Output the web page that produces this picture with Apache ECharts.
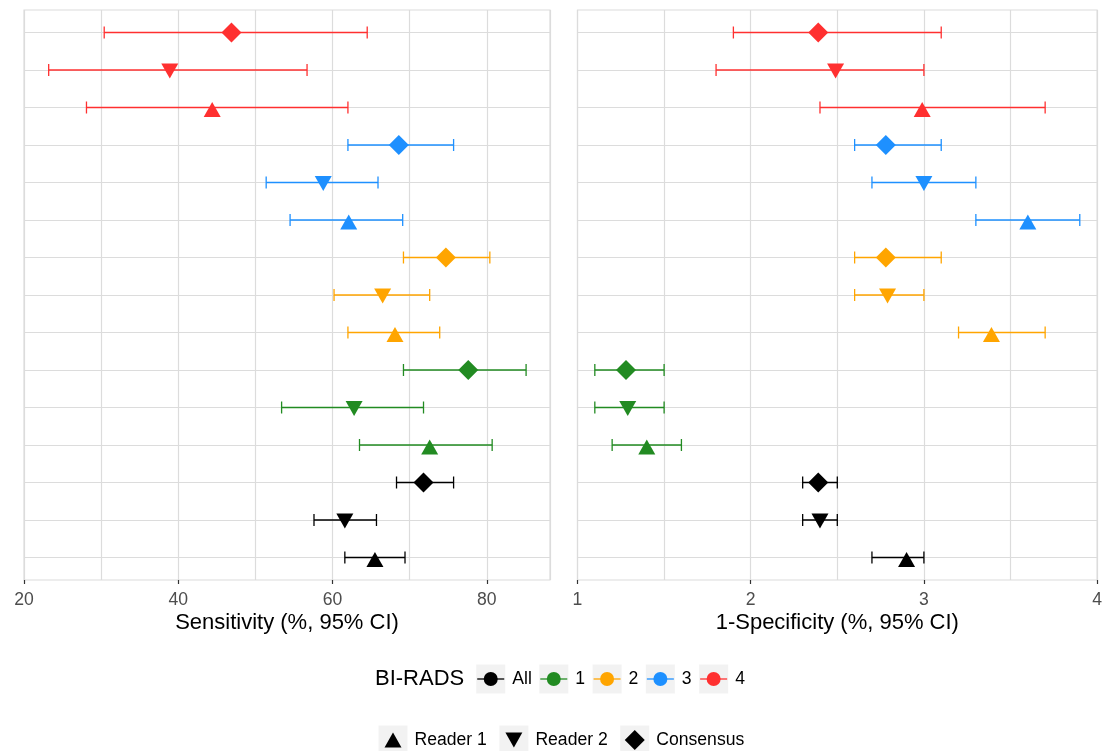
<!DOCTYPE html>
<html>
<head>
<meta charset="utf-8">
<script src="https://cdn.jsdelivr.net/npm/echarts@6/dist/echarts.min.js"></script>
<style>
  html, body { margin: 0; padding: 0; background: #ffffff; }
  #chart { width: 1105px; height: 751px; }
</style>
</head>
<body>
<div id="chart"></div>
<script>
// BI-RADS groups (bottom to top) and readers within each group
const biradsGroups = ['All', '1', '2', '3', '4'];
const readerNames = ['Reader 1', 'Reader 2', 'Consensus'];

// Sensitivity (%, 95% CI) — rows: BI-RADS group, columns: Reader 1, Reader 2, Consensus
const sensEst  = [[65.5, 61.6, 71.8], [72.6, 62.8, 77.6], [68.1, 66.5, 74.7], [62.1, 58.8, 68.6], [44.4, 38.9, 46.9]];
const sensLow  = [[61.6, 57.6, 68.3], [63.5, 53.4, 69.2], [62.0, 60.2, 69.2], [54.5, 51.4, 62.0], [28.1, 23.2, 30.4]];
const sensHigh = [[69.4, 65.7, 75.7], [80.7, 71.8, 85.1], [73.9, 72.6, 80.4], [69.1, 65.9, 75.7], [62.0, 56.7, 64.5]];

// 1-Specificity (%, 95% CI)
const fprEst  = [[2.90, 2.40, 2.39], [1.40, 1.29, 1.28], [3.39, 2.79, 2.78], [3.60, 3.00, 2.78], [2.99, 2.49, 2.39]];
const fprLow  = [[2.70, 2.30, 2.30], [1.20, 1.10, 1.10], [3.20, 2.60, 2.60], [3.30, 2.70, 2.60], [2.40, 1.80, 1.90]];
const fprHigh = [[3.00, 2.50, 2.50], [1.60, 1.50, 1.50], [3.70, 3.00, 3.10], [3.90, 3.30, 3.10], [3.70, 3.00, 3.10]];

// Axis ranges and tick labels
const sensRange = [20, 88.2];
const sensTicks = [20, 40, 60, 80];
const fprRange = [1, 4];
const fprTicks = [1, 2, 3, 4];
const rowTicks = [1, 2, 3, 4, 5, 6, 7, 8, 9, 10, 11, 12, 13, 14, 15];

// ---- styling ----
const groupColors = ['#000000', '#228B22', '#FFA500', '#1E90FF', '#FF3030'];
const readerSymbols = ['triangle', 'triangle', 'diamond'];
const readerRotate = [0, 180, 0];
const readerSize = [[17, 15], [17, 15], [20, 20]];
const readerOffset = [[0, 2], [0, 1], [0, 0]];
const FONT = '"Liberation Sans", Arial, sans-serif';
const GRID_COLOR = '#dcdcdc';
const CAP = 0.32;   // cap height in row units

const rowOf = (gi, ri) => gi * 3 + ri + 1;

function errorBars(xAxisIndex, low, high) {
  const data = [];
  biradsGroups.forEach((g, gi) => readerNames.forEach((r, ri) => {
    data.push([low[gi][ri], high[gi][ri], rowOf(gi, ri), gi]);
  }));
  return {
    type: 'custom',
    xAxisIndex: xAxisIndex,
    yAxisIndex: xAxisIndex,
    silent: true,
    z: 3,
    encode: { x: [0, 1], y: 2 },
    data: data,
    renderItem: function (params, api) {
      const y = api.value(2);
      const a = api.coord([api.value(0), y]);
      const b = api.coord([api.value(1), y]);
      const half = api.size([0, CAP])[1] / 2;
      const style = { stroke: groupColors[api.value(3)], lineWidth: 1.3 };
      return {
        type: 'group',
        children: [
          { type: 'line', shape: { x1: a[0], y1: a[1], x2: b[0], y2: b[1] }, style: style },
          { type: 'line', shape: { x1: a[0], y1: a[1] - half, x2: a[0], y2: a[1] + half }, style: style },
          { type: 'line', shape: { x1: b[0], y1: b[1] - half, x2: b[0], y2: b[1] + half }, style: style }
        ]
      };
    }
  };
}

function points(xAxisIndex, est) {
  const data = [];
  biradsGroups.forEach((g, gi) => readerNames.forEach((r, ri) => {
    data.push({
      value: [est[gi][ri], rowOf(gi, ri)],
      symbol: readerSymbols[ri],
      symbolRotate: readerRotate[ri],
      symbolSize: readerSize[ri],
      symbolOffset: readerOffset[ri],
      itemStyle: { color: groupColors[gi], opacity: 1 }
    });
  }));
  return {
    type: 'scatter',
    xAxisIndex: xAxisIndex,
    yAxisIndex: xAxisIndex,
    silent: true,
    z: 4,
    itemStyle: { opacity: 1 },
    data: data
  };
}

// Grid-line axis (minor + major vertical lines) and a tick/label axis per panel
function gridXAxis(gridIndex, range, step, title) {
  return {
    type: 'value', gridIndex: gridIndex, min: range[0], max: range[1], interval: step,
    axisLine: { show: false }, axisTick: { show: false }, axisLabel: { show: false },
    splitLine: { show: true, lineStyle: { color: GRID_COLOR, width: 1.2 } },
    name: title, nameLocation: 'middle', nameGap: 32,
    nameTextStyle: { fontSize: 22, color: '#000000', fontFamily: FONT }
  };
}
function tickXAxis(gridIndex, range, ticks) {
  return {
    type: 'value', gridIndex: gridIndex, min: range[0], max: range[1], position: 'bottom',
    interval: ticks[1] - ticks[0],
    axisLine: { show: false },
    axisTick: { show: true, length: 4, customValues: ticks, lineStyle: { color: '#333333', width: 1.2 } },
    axisLabel: { show: true, customValues: ticks, margin: 11, color: '#4d4d4d', fontSize: 17.6, fontFamily: FONT },
    splitLine: { show: false }
  };
}
function rowYAxis(gridIndex) {
  return {
    type: 'value', gridIndex: gridIndex, min: 0.4, max: 15.6,
    axisLine: { show: false },
    axisTick: { show: false, customValues: rowTicks },
    axisLabel: { show: false },
    splitLine: { show: true, lineStyle: { color: GRID_COLOR, width: 1.2 } }
  };
}

// ---- legends built from the group / reader lists ----
const measureCtx = document.createElement('canvas').getContext('2d');
function textWidth(text, size) {
  measureCtx.font = size + 'px ' + FONT;
  return measureCtx.measureText(text).width;
}
const KEY = 29, LABEL_GAP = 7;
const legendElements = [];

function keyBox(x, cy) {
  legendElements.push({ type: 'rect', silent: true, shape: { x: x, y: cy - KEY / 2, width: KEY, height: KEY },
    style: { fill: '#f2f2f2' } });
}
function legendText(text, x, cy, size) {
  legendElements.push({ type: 'text', silent: true, style: {
    text: text, x: x, y: cy, font: size + 'px ' + FONT, fill: '#000000', align: 'left', verticalAlign: 'middle' } });
}

// colour legend (BI-RADS)
(function () {
  const cy = 679;
  let x = 375;
  legendText('BI-RADS', x, cy, 22);
  x += textWidth('BI-RADS', 22) + 12;
  biradsGroups.forEach((g, gi) => {
    keyBox(x, cy);
    const c = groupColors[gi];
    legendElements.push({ type: 'line', silent: true, shape: { x1: x + 1, y1: cy, x2: x + KEY - 1, y2: cy },
      style: { stroke: c, lineWidth: 1.3 } });
    legendElements.push({ type: 'circle', silent: true, shape: { cx: x + KEY / 2, cy: cy, r: 7 }, style: { fill: c } });
    legendText(g, x + KEY + LABEL_GAP, cy, 17.6);
    x += KEY + LABEL_GAP + textWidth(g, 17.6) + 7.5;
  });
})();

// shape legend (readers)
(function () {
  const cy = 740;
  let x = 378.5;
  readerNames.forEach((r, ri) => {
    keyBox(x, cy);
    const cx = x + KEY / 2;
    const w = readerSize[ri][0], h = readerSize[ri][1];
    let pts;
    if (readerSymbols[ri] === 'diamond') {
      pts = [[cx, cy - h / 2], [cx + w / 2, cy], [cx, cy + h / 2], [cx - w / 2, cy]];
    } else if (readerRotate[ri] === 180) {
      pts = [[cx - w / 2, cy - h / 2], [cx + w / 2, cy - h / 2], [cx, cy + h / 2]];
    } else {
      pts = [[cx, cy - h / 2], [cx + w / 2, cy + h / 2], [cx - w / 2, cy + h / 2]];
    }
    legendElements.push({ type: 'polygon', silent: true, shape: { points: pts }, style: { fill: '#000000' } });
    legendText(r, x + KEY + LABEL_GAP, cy, 17.6);
    x += KEY + LABEL_GAP + textWidth(r, 17.6) + 12.5;
  });
})();

const chart = echarts.init(document.getElementById('chart'), null, { renderer: 'canvas' });
chart.setOption({
  backgroundColor: '#ffffff',
  animation: false,
  grid: [
    { left: 24, top: 10, width: 526, height: 570, show: true, borderColor: GRID_COLOR, borderWidth: 1.2, backgroundColor: '#ffffff' },
    { left: 577.5, top: 10, width: 524.5, height: 570, show: true, borderColor: GRID_COLOR, borderWidth: 1.2, backgroundColor: '#ffffff' }
  ],
  xAxis: [
    gridXAxis(0, sensRange, 10, 'Sensitivity (%, 95% CI)'),
    gridXAxis(1, fprRange, 0.5, '1-Specificity (%, 95% CI)'),
    tickXAxis(0, sensRange, sensTicks),
    tickXAxis(1, fprRange, fprTicks)
  ],
  yAxis: [rowYAxis(0), rowYAxis(1)],
  series: [
    errorBars(0, sensLow, sensHigh),
    errorBars(1, fprLow, fprHigh),
    points(0, sensEst),
    points(1, fprEst)
  ],
  graphic: { elements: legendElements }
});
</script>
</body>
</html>
